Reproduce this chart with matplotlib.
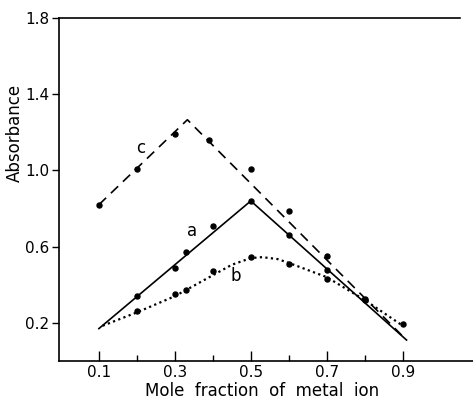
import numpy as np
import matplotlib
matplotlib.use("Agg")
import matplotlib.pyplot as plt

# measured points (mole fraction, absorbance)
x_pts = [0.2, 0.3, 0.33, 0.4, 0.5, 0.6, 0.7, 0.8]
a_pts = [0.34, 0.49, 0.57, 0.71, 0.84, 0.66, 0.48, 0.325]
b_pts = [0.26, 0.35, 0.37, 0.47, 0.545, 0.51, 0.43, 0.32]

c_x = [0.1, 0.2, 0.3, 0.39, 0.5, 0.6, 0.7]
c_pts = [0.82, 1.01, 1.19, 1.16, 1.01, 0.785, 0.55]
b_end_x = [0.9]
b_end = [0.195]

# fitted lines
a_line_x = [0.1, 0.5, 0.91]
a_line_y = [0.17, 0.84, 0.11]
c_line_x = [0.1, 0.333, 0.91]
c_line_y = [0.82, 1.266, 0.11]
b_line_x = [0.11, 0.2, 0.3, 0.4, 0.45, 0.5, 0.53, 0.57, 0.6, 0.7, 0.8, 0.9]
b_line_y = [0.185, 0.255, 0.34, 0.45, 0.505, 0.54, 0.545, 0.535, 0.515, 0.44, 0.32, 0.185]

fig = plt.figure(figsize=(4.73, 3.99), dpi=100)
ax = fig.add_axes([59 / 473, 1 - 361 / 399, 414 / 473, 343 / 399])

ax.plot(a_line_x, a_line_y, color="black", lw=1.2)
ax.plot(c_line_x, c_line_y, color="black", lw=1.2, dashes=(6, 4))
ax.plot(b_line_x, b_line_y, color="black", lw=1.6, linestyle=(0, (1, 1.5)))

ax.plot(x_pts, a_pts, "o", color="black", ms=3.6)
ax.plot(x_pts, b_pts, "o", color="black", ms=3.6)
ax.plot(c_x, c_pts, "o", color="black", ms=3.6)
ax.plot(b_end_x, b_end, "o", color="black", ms=3.6)

ax.text(0.21, 1.12, "c", fontsize=12, ha="center", va="center")
ax.text(0.345, 0.68, "a", fontsize=12, ha="center", va="center")
ax.text(0.46, 0.445, "b", fontsize=12, ha="center", va="center")

ax.set_xlim(-0.005, 1.085)
ax.set_ylim(0, 1.8)

ax.spines["right"].set_visible(False)
ax.spines["top"].set_bounds(-0.005, 1.05)
for s in ax.spines.values():
    s.set_linewidth(1.2)

ax.set_xticks([0.1, 0.3, 0.5, 0.7, 0.9])
ax.set_xticklabels(["0.1", "0.3", "0.5", "0.7", "0.9"])
ax.set_xticks([0.2, 0.4, 0.6, 0.8], minor=True)
ax.tick_params(axis="x", which="major", direction="in", length=7, width=1, labelsize=11, pad=3)
ax.tick_params(axis="x", which="minor", direction="in", length=4, width=1)
ax.set_yticks([0.2, 0.6, 1.0, 1.4, 1.8])
ax.set_yticklabels(["0.2", "0.6", "1.0", "1.4", "1.8"])
ax.tick_params(axis="y", direction="out", length=5, width=1, labelsize=11, pad=2)

ax.set_xlabel("Mole  fraction  of  metal  ion", fontsize=12)
ax.xaxis.set_label_coords(0.49, -0.06)
ax.set_ylabel("Absorbance", fontsize=12)
ax.yaxis.set_label_coords(-0.085, 0.665)

fig.savefig("out.png", dpi=100)
